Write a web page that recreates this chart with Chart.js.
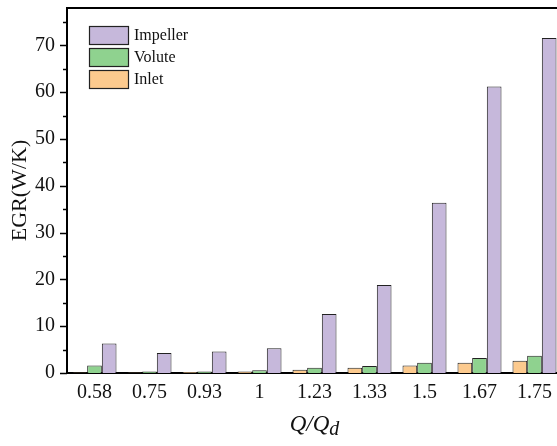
<!DOCTYPE html>
<html>
<head>
<meta charset="utf-8">
<script src="https://cdn.jsdelivr.net/npm/chart.js@4.4.1/dist/chart.umd.min.js"></script>
<style>
  html, body { margin: 0; padding: 0; background: #fff; overflow: hidden; }
  #wrap { width: 557px; height: 446px; overflow: hidden; }
</style>
</head>
<body>
<div id="wrap"><canvas id="mycanvas" width="580" height="446"></canvas></div>
<script>
// Q/Qd flow ratios
var ratios = ['0.58', '0.75', '0.93', '1', '1.23', '1.33', '1.5', '1.67', '1.75'];
// EGR (W/K) per component
var impeller = [6.3, 4.3, 4.6, 5.3, 12.6, 18.8, 36.4, 61.2, 71.6];
var volute = [1.6, 0.3, 0.3, 0.6, 1.1, 1.5, 2.2, 3.2, 3.7];
var inlet = [0.1, 0.1, 0.2, 0.3, 0.7, 1.1, 1.6, 2.2, 2.6];
var yTicks = [0, 10, 20, 30, 40, 50, 60, 70];

var serif = "'Liberation Serif', 'Times New Roman', serif";

// frame, minor ticks, legend and x title
var extras = {
    id: 'extras',
    afterDraw: function(chart) {
        var ctx = chart.ctx;
        var area = chart.chartArea;
        var y = chart.scales.y;
        ctx.save();
        ctx.strokeStyle = '#000';

        // top + right frame
        ctx.lineWidth = 2;
        ctx.beginPath();
        ctx.moveTo(area.left - 1, area.top);
        ctx.lineTo(area.right, area.top);
        ctx.lineTo(area.right, area.bottom);
        ctx.stroke();

        // outward y ticks, major and minor
        ctx.lineWidth = 1.5;
        for (var v = 0; v <= 75; v += 5) {
            var py = Math.round(y.getPixelForValue(v)) + 0.5;
            var len = (v % 10 === 0) ? 7 : 4;
            ctx.beginPath();
            ctx.moveTo(area.left - len, py);
            ctx.lineTo(area.left, py);
            ctx.stroke();
        }

        // legend, reversed order like the figure
        var items = chart.data.datasets.slice().reverse();
        ctx.font = '16px ' + serif;
        ctx.textBaseline = 'middle';
        ctx.textAlign = 'left';
        for (var i = 0; i < items.length; i++) {
            var bx = 89, by = 26 + i * 22;
            ctx.fillStyle = items[i].backgroundColor;
            ctx.fillRect(bx, by, 40, 19);
            ctx.lineWidth = 1.2;
            ctx.strokeStyle = '#222';
            ctx.strokeRect(bx + 0.5, by + 0.5, 39, 18);
            ctx.fillStyle = '#111';
            ctx.fillText(items[i].label, bx + 45, by + 10);
        }

        // x title Q/Q_d
        var cx = (area.left + area.right) / 2;
        ctx.font = 'italic 23px ' + serif;
        var main = 'Q/Q';
        var wMain = ctx.measureText(main).width;
        ctx.font = 'italic 20px ' + serif;
        var wSub = ctx.measureText('d').width;
        var start = cx - (wMain + wSub) / 2;
        ctx.fillStyle = '#111';
        ctx.textBaseline = 'alphabetic';
        ctx.font = 'italic 23px ' + serif;
        ctx.fillText(main, start, 431);
        ctx.font = 'italic 20px ' + serif;
        ctx.fillText('d', start + wMain, 435);
        ctx.restore();
    }
};

var chartdata = {
    labels: ratios,
    datasets: [
        {
            label: 'Inlet',
            backgroundColor: 'rgb(252, 202, 142)',
            borderColor: '#222',
            borderWidth: 1,
            data: inlet
        },
        {
            label: 'Volute',
            backgroundColor: 'rgb(143, 210, 143)',
            borderColor: '#222',
            borderWidth: 1,
            data: volute
        },
        {
            label: 'Impeller',
            backgroundColor: 'rgb(198, 184, 219)',
            borderColor: '#222',
            borderWidth: 1,
            data: impeller
        }
    ]
};

var ctx = document.getElementById('mycanvas');
var egrChart = new Chart(ctx, {
    type: 'bar',
    data: chartdata,
    plugins: [extras],
    options: {
        responsive: false,
        animation: false,
        devicePixelRatio: 1,
        layout: { padding: { top: 8, right: 18, left: 0, bottom: 0 } },
        datasets: {
            bar: { categoryPercentage: 0.8, barPercentage: 1.0 }
        },
        plugins: {
            legend: { display: false },
            tooltip: { enabled: false }
        },
        scales: {
            x: {
                grid: { display: false, drawTicks: false },
                border: { display: true, color: '#000', width: 2 },
                ticks: {
                    color: '#111',
                    padding: 8,
                    font: { family: serif, size: 20 }
                },
                afterFit: function(scale) {
                    scale.height = 73;
                    scale.paddingLeft = 0;
                    scale.paddingRight = 0;
                }
            },
            y: {
                min: 0,
                max: 78,
                grid: { display: false, drawTicks: false },
                border: { display: true, color: '#000', width: 2 },
                afterBuildTicks: function(scale) {
                    scale.ticks = yTicks.map(function(v) { return { value: v }; });
                },
                ticks: {
                    color: '#111',
                    padding: 12,
                    font: { family: serif, size: 20 }
                },
                title: {
                    display: true,
                    text: 'EGR(W/K)',
                    color: '#111',
                    padding: { top: 7, bottom: 0 },
                    font: { family: serif, size: 22 }
                },
                afterFit: function(scale) {
                    scale.width = 67;
                    scale.paddingTop = 0;
                    scale.paddingBottom = 0;
                }
            }
        }
    }
});
</script>
</body>
</html>
